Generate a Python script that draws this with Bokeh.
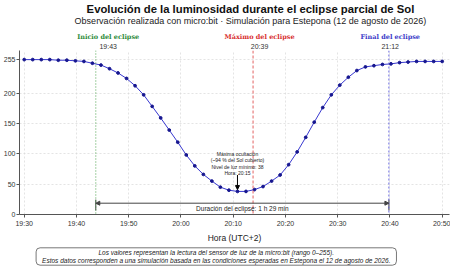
from bokeh.plotting import figure
from bokeh.layouts import column
from bokeh.models import Range1d, FixedTicker, Span, Label, Arrow, NormalHead, ColumnDataSource
from bokeh.embed import file_html
from bokeh.resources import INLINE

# Sample times, minutes after 19:30 (UTC+2)
TIMES_MIN = [0.00, 1.63, 3.27, 4.90, 6.53, 8.16, 9.80, 11.43, 13.06, 14.69,
             16.33, 17.96, 19.59, 21.22, 22.86, 24.49, 26.12, 27.76, 29.39, 31.02,
             32.65, 34.29, 35.92, 37.55, 39.18, 40.82, 42.45, 44.08, 45.71, 47.35,
             48.98, 50.61, 52.24, 53.88, 55.51, 57.14, 58.78, 60.41, 62.04, 63.67,
             65.31, 66.94, 68.57, 70.20, 71.84, 73.47, 75.10, 76.73, 78.37, 80.00]

# micro:bit light sensor reading (0-255)
LIGHT = [255, 255, 255, 255, 254, 254, 253, 252, 249, 246,
         240, 233, 224, 212, 197, 178, 159, 139, 119, 98,
         80, 66, 55, 45, 40, 38, 38, 41, 46, 55,
         65, 82, 103, 127, 152, 176, 197, 213, 226, 237,
         243, 245, 247, 248, 250, 251, 252, 252, 252, 252]

# Tick positions (minutes after 19:30) and their clock labels
X_TICKS = [0, 10, 20, 30, 40, 50, 60, 70, 80]
X_TICK_LABELS = ["19:30", "19:40", "19:50", "20:00", "20:10", "20:20", "20:30", "20:40", "20:50"]
Y_TICKS = [0, 50, 100, 150, 200, 255]

# Eclipse events: marker position (minutes after 19:30), name, stated time, colour
EVENT_POS = [13.7, 43.8, 69.8]
EVENT_NAMES = ["Inicio del eclipse", "Máximo del eclipse", "Final del eclipse"]
EVENT_TIMES = ["19:43", "20:39", "21:12"]
EVENT_COLORS = ["#2e8b3a", "#d83030", "#3c3cc8"]
EVENT_LINE_COLORS = ["#3a9a3a", "#e05050", "#5555d8"]
EVENT_DASH = ["1 2", "3 2", "2 2"]

TITLE = "Evolución de la luminosidad durante el eclipse parcial de Sol"
SUBTITLE = "Observación realizada con micro:bit · Simulación para Estepona (12 de agosto de 2026)"
DURATION_TEXT = "Duración del eclipse: 1 h 29 min"
MAX_NOTE = ["Máxima ocultación", "(~94 % del Sol cubierto)",
            "Nivel de luz mínimo: 38", "Hora: 20:15"]
FOOTNOTE = ("Los valores representan la lectura del sensor de luz de la micro:bit (rango 0–255).\n"
            "Estos datos corresponden a una simulación basada en las condiciones esperadas en Estepona el 12 de agosto de 2026.")

SANS = "Liberation Sans"
SERIF = "DejaVu Serif"

W = 450
LEFT, RIGHT = 16, 1
X0, X1 = -0.9, 81.4
FRAME_H = 167
HEADER_H = 50
BOTTOM = 28
FOOTER_H = 267 - HEADER_H - FRAME_H - BOTTOM

# minutes per pixel, so header/footer share the main plot's horizontal scale
mpp = (X1 - X0) / (W - LEFT - RIGHT)
outer_x = (X0 - LEFT * mpp, X1 + RIGHT * mpp)


def text_strip(height):
    f = figure(width=W, height=height, output_backend="svg", toolbar_location=None,
               x_range=Range1d(*outer_x), y_range=Range1d(height, 0),
               x_axis_location=None, y_axis_location=None,
               min_border_left=0, min_border_right=0, min_border_top=0, min_border_bottom=0)
    f.outline_line_color = None
    f.grid.visible = False
    f.background_fill_color = "white"
    f.border_fill_color = "white"
    return f


# ---- header: titles and event labels ----
head = text_strip(HEADER_H)
head.add_layout(Label(x=42.0, y=8, text=TITLE, text_font=SANS, text_font_style="bold",
                      text_font_size="11.3px", text_color="#111111",
                      text_align="center", text_baseline="middle"))
head.add_layout(Label(x=42.0, y=20.5, text=SUBTITLE, text_font=SANS, text_font_size="9px",
                      text_color="#222222", text_align="center", text_baseline="middle"))
for pos, name, tm, col in zip(EVENT_POS, EVENT_NAMES, EVENT_TIMES, EVENT_COLORS):
    head.add_layout(Label(x=pos, y=36.3, text=name, text_font=SERIF, text_font_style="bold",
                          text_font_size="6.5px", text_color=col,
                          text_align="center", text_baseline="middle"))
    head.add_layout(Label(x=pos, y=45.7, text=tm, text_font=SANS, text_font_size="7px",
                          text_color="#333333", text_align="center", text_baseline="middle"))

# ---- main plot ----
p = figure(width=W, height=FRAME_H + BOTTOM, output_backend="svg", toolbar_location=None,
           x_range=Range1d(X0, X1), y_range=Range1d(0, 270),
           min_border_left=LEFT, min_border_right=RIGHT, min_border_top=0,
           min_border_bottom=BOTTOM)
p.outline_line_color = None
p.background_fill_color = "white"
p.border_fill_color = "white"

p.xaxis.ticker = FixedTicker(ticks=X_TICKS)
p.xaxis.major_label_overrides = {t: s for t, s in zip(X_TICKS, X_TICK_LABELS)}
p.yaxis.ticker = FixedTicker(ticks=Y_TICKS)
for ax in (p.xaxis, p.yaxis):
    ax.axis_line_color = "#555555"
    ax.axis_line_width = 1
    ax.major_tick_line_color = "#555555"
    ax.major_tick_in = 0
    ax.major_tick_out = 3
    ax.minor_tick_line_color = None
    ax.major_label_text_font = SANS
    ax.major_label_text_font_size = "7px"
    ax.major_label_text_color = "#333333"
p.xaxis.major_label_standoff = 2
p.yaxis.major_label_standoff = 1
p.xaxis.axis_label = "Hora (UTC+2)"
p.xaxis.axis_label_text_font = SANS
p.xaxis.axis_label_text_font_size = "8.5px"
p.xaxis.axis_label_text_font_style = "normal"
p.xaxis.axis_label_text_color = "#222222"
p.xaxis.axis_label_standoff = 3

for g in (p.xgrid, p.ygrid):
    g.grid_line_color = "#d8d8d8"
    g.grid_line_dash = "2 2"
    g.grid_line_width = 0.7

for pos, lcol, dash in zip(EVENT_POS, EVENT_LINE_COLORS, EVENT_DASH):
    p.add_layout(Span(location=pos, dimension="height", line_color=lcol,
                      line_dash=dash, line_width=0.9))

src = ColumnDataSource(data=dict(t=TIMES_MIN, v=LIGHT))
p.line("t", "v", source=src, line_color="#3838d0", line_width=1)
p.scatter("t", "v", source=src, marker="circle", size=2.8,
          fill_color="#16168f", line_color="#16168f")

# Minimum annotation
i_min = LIGHT.index(min(LIGHT))
t_min = TIMES_MIN[i_min]
v_min = LIGHT[i_min]
p.add_layout(Arrow(end=NormalHead(size=4, fill_color="black", line_color="black"),
                   x_start=t_min, y_start=v_min + 27, x_end=t_min, y_end=v_min + 3,
                   line_color="black", line_width=1))
for k, line in enumerate(MAX_NOTE):
    p.add_layout(Label(x=t_min, y=100 - k * 10.5, text=line, text_font=SANS,
                       text_font_size="5px", text_color="#222222",
                       text_align="center", text_baseline="middle"))

# Eclipse duration arrow
y_dur = 18.6
p.add_layout(Arrow(start=NormalHead(size=4, fill_color="#444444", line_color="#444444"),
                   end=NormalHead(size=4, fill_color="#444444", line_color="#444444"),
                   x_start=EVENT_POS[0], y_start=y_dur, x_end=EVENT_POS[2], y_end=y_dur,
                   line_color="#444444", line_width=1))
p.segment(x0=[EVENT_POS[0], EVENT_POS[2]], y0=[y_dur - 12, y_dur - 12],
          x1=[EVENT_POS[0], EVENT_POS[2]], y1=[y_dur + 6, y_dur + 6],
          line_color="#444444", line_width=1)
p.add_layout(Label(x=(EVENT_POS[0] + EVENT_POS[2]) / 2, y=y_dur - 9.5, text=DURATION_TEXT,
                   text_font=SANS, text_font_size="6.5px", text_color="#222222",
                   text_align="center", text_baseline="middle"))

# ---- footer: note box ----
foot = text_strip(FOOTER_H)
foot.add_layout(Label(x=35.2, y=FOOTER_H / 2, text=FOOTNOTE, text_font=SANS,
                      text_font_style="italic", text_font_size="6.5px", text_color="#222222",
                      text_align="center", text_baseline="middle", text_line_height=1.2,
                      border_line_color="#555555", border_line_width=0.8,
                      background_fill_color="white",
                      padding=dict(left=6, right=6, top=1, bottom=1), border_radius=4))

layout = column(head, p, foot, spacing=0)
open("out.html", "w").write(file_html(layout, INLINE))
